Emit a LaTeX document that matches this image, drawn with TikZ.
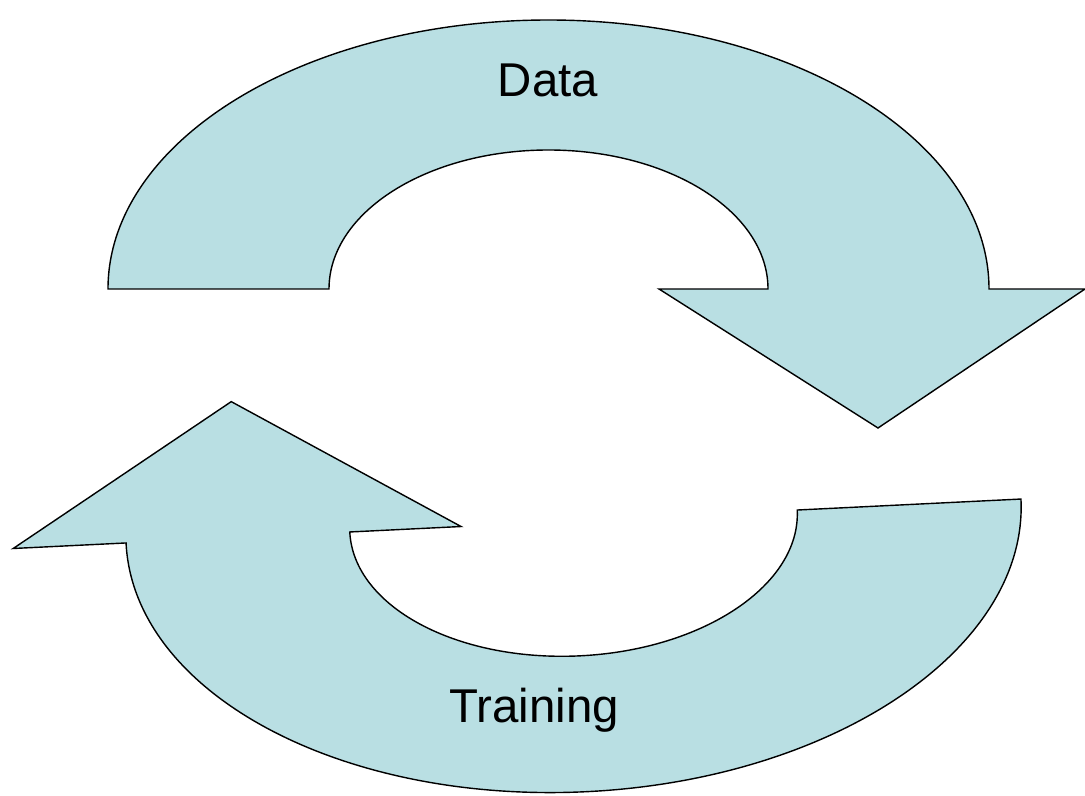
\documentclass[tikz,border=0pt]{standalone}
\usepackage{fontspec}
\setmainfont{Liberation Sans}
\definecolor{cyclefill}{RGB}{185,223,227}
\tikzset{cyclearrow/.style={draw=black, fill=cyclefill, line width=0.8pt}}
\begin{document}
\begin{tikzpicture}[x=0.02cm, y=0.02cm, every node/.append style={font=\fontsize{27}{31}\selectfont, anchor=base}]
	\useasboundingbox (0,0) rectangle (1085,795);

	%Data arrow
	\draw[cyclearrow] (108,506) arc[start angle=180, end angle=0, x radius=440.5, y radius=269]
		-- (1085,506) -- (878,367) -- (659,506) -- (768,506)
		arc[start angle=0, end angle=180, x radius=219.5, y radius=139] -- cycle;
	\node (data) at (548,698) {Data};

	%Training arrow
	\begin{scope}[shift={(573.5,274)}, rotate=2.81]
		\draw[cyclearrow] (-448,0) arc[start angle=180, end angle=360, x radius=448, y radius=271]
			-- (224,0) arc[start angle=0, end angle=-180, x radius=224, y radius=135]
			-- (-112.6,0) -- (-336,136) -- (-561,0) -- cycle;
	\end{scope}
	\node (training) at (534,73) {Training};
\end{tikzpicture}
\end{document}
